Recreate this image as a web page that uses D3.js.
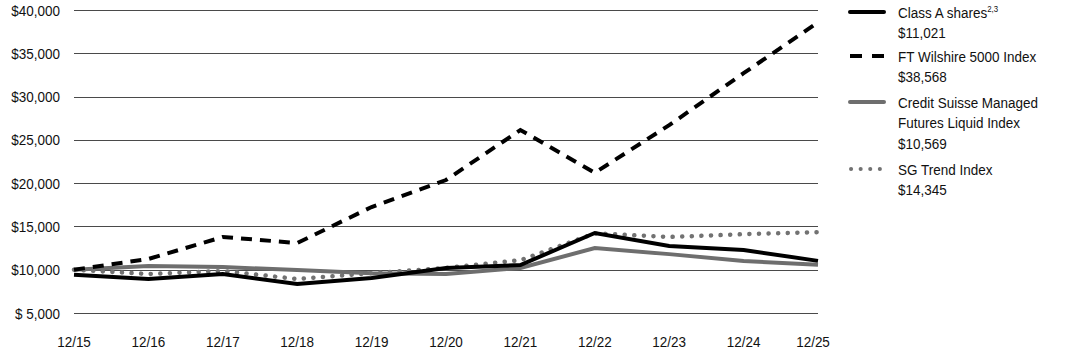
<!DOCTYPE html>
<html>
<head>
<meta charset="utf-8">
<script src="https://cdn.jsdelivr.net/npm/d3@7"></script>
<style>
html,body{margin:0;padding:0;background:#fff;}
svg text{font-family:"Liberation Sans",Arial,sans-serif;font-size:15.5px;fill:#111;}
</style>
</head>
<body>
<svg id="chart" width="1085" height="352"></svg>
<script>
const categories = ["12/15","12/16","12/17","12/18","12/19","12/20","12/21","12/22","12/23","12/24","12/25"];
const classA = [9425, 8930, 9500, 8350, 9040, 10200, 10540, 14240, 12740, 12280, 11021];
const wilshire = [10000, 11240, 13780, 13085, 17240, 20360, 26140, 21200, 26700, 32700, 38568];
const creditSuisse = [10000, 10430, 10300, 9970, 9600, 9500, 10200, 12500, 11800, 11000, 10569];
const sgTrend = [10000, 9500, 9850, 8930, 9600, 10200, 11100, 14200, 13780, 14100, 14345];
const yTicks = [5000, 10000, 15000, 20000, 25000, 30000, 35000, 40000];
const yTickLabels = ["$ 5,000","$10,000","$15,000","$20,000","$25,000","$30,000","$35,000","$40,000"];
const legendLabels = [["Class A shares", "$11,021"], ["FT Wilshire 5000 Index", "$38,568"], ["Credit Suisse Managed", "Futures Liquid Index", "$10,569"], ["SG Trend Index", "$14,345"]];

const SX = 0.87;
const svg = d3.select("#chart");
const x = d3.scalePoint().domain(categories).range([74, 818]);
const y = d3.scaleLinear().domain([5000, 40000]).range([313, 10]);

function narrowText(sel, fx, fy) {
  return sel.attr("x", 0).attr("y", 0)
    .attr("transform", (d, i) => `translate(${fx(d, i)},${fy(d, i)}) scale(${SX},1)`);
}

// gridlines
svg.append("g").selectAll("line").data(yTicks).join("line")
  .attr("x1", 74).attr("x2", 818)
  .attr("y1", d => Math.round(y(d)) + 0.5).attr("y2", d => Math.round(y(d)) + 0.5)
  .attr("stroke", "#4a4a4a").attr("stroke-width", 1.2);

// y labels
narrowText(svg.append("g").selectAll("text").data(yTicks).join("text"),
  d => 60, d => y(d) + 5.5)
  .attr("text-anchor", "end")
  .text((d, i) => yTickLabels[i]);

// x labels
narrowText(svg.append("g").selectAll("text").data(categories).join("text"),
  (d, i) => i === categories.length - 1 ? x(d) - 5 : x(d), d => 347)
  .attr("text-anchor", "middle")
  .text(d => d);

const line = d3.line().x((d, i) => x(categories[i])).y(d => y(d));

const series = [
  {data: creditSuisse, stroke: "#6e6e6e", width: 4, dash: null, cap: "butt"},
  {data: sgTrend, stroke: "#727272", width: 4.5, dash: "0.1 9.5", cap: "round"},
  {data: classA, stroke: "#000", width: 4, dash: null, cap: "butt"},
  {data: wilshire, stroke: "#000", width: 4, dash: "11 8", cap: "butt"}
];
series.forEach(s => {
  svg.append("path").datum(s.data)
    .attr("d", line)
    .attr("fill", "none")
    .attr("stroke", s.stroke)
    .attr("stroke-width", s.width)
    .attr("stroke-linejoin", "miter")
    .attr("stroke-linecap", s.cap)
    .attr("stroke-dasharray", s.dash);
});

// legend
const legendStyles = [
  {stroke: "#000", width: 4, dash: null, cap: "round"},
  {stroke: "#000", width: 4, dash: "12 10", cap: "butt"},
  {stroke: "#6e6e6e", width: 4, dash: null, cap: "round"},
  {stroke: "#727272", width: 4, dash: "0.1 9.5", cap: "round"}
];
const legendTop = [12, 56, 102, 169];
const lineH = 20.5;
legendLabels.forEach((lines, i) => {
  const g = svg.append("g");
  const st = legendStyles[i];
  g.append("line").attr("x1", i === 3 ? 851 : 850).attr("x2", 884)
    .attr("y1", legendTop[i]).attr("y2", legendTop[i])
    .attr("stroke", st.stroke).attr("stroke-width", st.width)
    .attr("stroke-dasharray", st.dash).attr("stroke-linecap", st.cap);
  lines.forEach((t, j) => {
    const tx = g.append("text")
      .attr("x", 0).attr("y", 0)
      .attr("transform", `translate(898,${legendTop[i] + 5.5 + j * lineH}) scale(${SX},1)`)
      .text(t);
    if (i === 0 && j === 0) {
      tx.append("tspan").attr("dy", -6).style("font-size", "9px").text("2,3");
    }
  });
});
</script>
</body>
</html>
